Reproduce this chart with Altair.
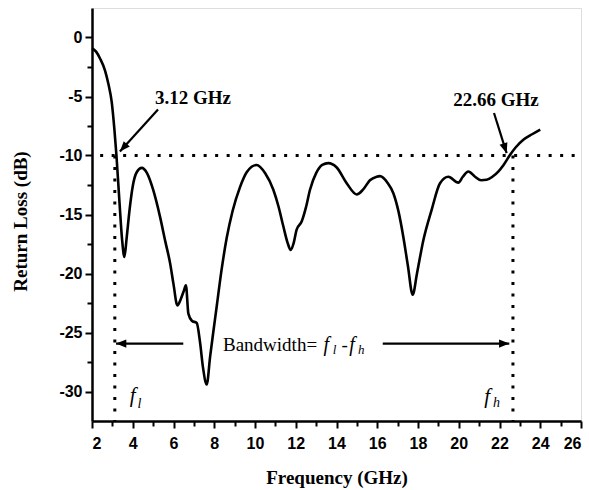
import altair as alt
import pandas as pd

# Return loss curve (GHz, dB)
freq = [2.00, 2.2, 2.4, 2.64, 2.8, 2.97, 3.1, 3.2, 3.35, 3.48, 3.59, 3.7, 3.85, 4.0, 4.2,
        4.44, 4.7, 5.0, 5.34, 5.6, 5.83, 6.0, 6.19, 6.35, 6.5, 6.61, 6.73, 6.9, 7.14, 7.3,
        7.45, 7.63, 7.8, 7.95, 8.12, 8.35, 8.61, 8.9, 9.26, 9.6, 10.08, 10.5, 10.9, 11.15,
        11.39, 11.6, 11.75, 11.9, 12.04, 12.29, 12.5, 12.7, 13.0, 13.3, 13.6, 14.0, 14.5,
        14.99, 15.3, 15.64, 15.97, 16.13, 16.5, 16.79, 17.05, 17.28, 17.5, 17.74, 17.95,
        18.26, 18.67, 19.08, 19.49, 19.98, 20.2, 20.47, 20.8, 21.1, 21.37, 21.65, 21.94,
        22.2, 22.52, 22.8, 23.17, 23.6, 24.0]
rl = [-0.9, -1.2, -1.8, -2.8, -3.9, -5.5, -7.8, -10.0, -14.0, -17.2, -18.6, -17.0, -14.5,
      -12.6, -11.4, -11.05, -11.5, -12.9, -15.2, -17.3, -19.1, -20.9, -22.7, -22.2, -21.5,
      -21.0, -23.4, -24.0, -24.2, -25.8, -28.0, -29.4, -27.0, -25.0, -22.8, -19.8, -17.0,
      -14.7, -12.7, -11.4, -10.8, -11.5, -12.9, -14.3, -16.0, -17.4, -18.0, -17.4, -16.3,
      -15.6, -14.4, -12.9, -11.5, -10.8, -10.65, -11.0, -12.35, -13.3, -12.9, -12.1, -11.8,
      -11.75, -12.3, -13.2, -14.8, -16.9, -19.3, -21.8, -20.0, -17.2, -14.6, -12.35, -11.8,
      -12.3, -11.8, -11.36, -11.8, -12.1, -12.06, -11.8, -11.36, -10.8, -9.94, -9.3, -8.67,
      -8.2, -7.8]

f_low = 3.12
f_high = 22.66
threshold = -10
x_ticks = list(range(2, 27))
y_ticks = [-30, -27.5, -25, -22.5, -20, -17.5, -15, -12.5, -10, -7.5, -5, -2.5, 0]

# dotted guide lines
guide_f = [2.4, f_low, f_high]
guide_f2 = [25.7, f_low, f_high]
guide_db = [threshold, threshold, threshold]
guide_db2 = [threshold, -32.5, -32.5]

# arrows: start -> tip
arrow_f = [5.24, 21.73, 6.48, 16.27]
arrow_db = [-6.1, -6.4, -25.94, -25.94]
arrow_f2 = [3.37, 22.35, 3.18, 22.48]
arrow_db2 = [-9.66, -9.8, -25.94, -25.94]
arrow_angle = [222, 162, 270, 90]

# bold labels
lbl_text = ["3.12 GHz", "22.66 GHz"]
lbl_f = [6.96, 21.83]
lbl_db = [-5.1, -5.27]

XSC = alt.Scale(domain=[2, 26], nice=False, zero=False)
YSC = alt.Scale(domain=[-32.5, 2.5], nice=False, zero=False)

xaxis = alt.Axis(
    values=x_ticks, title="Frequency (GHz)",
    labelExpr="datum.value % 2 === 0 ? datum.label : ''",
    labelOverlap=False, labelFont="Liberation Sans", labelFontWeight="bold",
    labelFontSize=16, labelColor="black", labelPadding=7,
    tickSize={"condition": {"test": "datum.value % 2 === 0", "value": 7}, "value": 5},
    tickColor="black", tickWidth=2, domainColor="black", domainWidth=2.5,
    grid=False, titleFont="Liberation Serif", titleFontWeight="bold",
    titleFontSize=19, titleColor="black", titleY=56, titleBaseline="middle",
)
yaxis = alt.Axis(
    values=y_ticks, title="Return Loss (dB)",
    labelExpr="datum.value % 5 === 0 ? '' + datum.value : ''",
    labelOverlap=False, labelFont="Liberation Sans", labelFontWeight="bold",
    labelFontSize=16, labelColor="black", labelPadding=3,
    tickSize={"condition": {"test": "datum.value % 5 === 0", "value": 7}, "value": 5},
    tickColor="black", tickWidth=2, domainColor="black", domainWidth=2.5,
    grid=False, titleFont="Liberation Serif", titleFontWeight="bold",
    titleFontSize=19, titleColor="black", titleX=-72, titleY=213,
    titleBaseline="middle",
)

def X(field="f"):
    return alt.X(f"{field}:Q", scale=XSC, axis=xaxis, title="Frequency (GHz)")

def Y(field="db"):
    return alt.Y(f"{field}:Q", scale=YSC, axis=yaxis, title="Return Loss (dB)")

curve = pd.DataFrame({"f": freq, "db": rl})
line = alt.Chart(curve).mark_line(color="black", strokeWidth=2.6, interpolate="monotone").encode(
    x=X(), y=Y())

guides = pd.DataFrame({"f": guide_f, "f2": guide_f2, "db": guide_db, "db2": guide_db2})
guide = alt.Chart(guides).mark_rule(color="black", strokeWidth=3, strokeDash=[3, 8.5]).encode(
    x=X(), x2="f2:Q", y=Y(), y2="db2:Q")

arrows = pd.DataFrame({"f": arrow_f, "db": arrow_db, "f2": arrow_f2, "db2": arrow_db2,
                       "ang": arrow_angle})
shaft = alt.Chart(arrows).mark_rule(color="black", strokeWidth=2.2).encode(
    x=X(), x2="f2:Q", y=Y(), y2="db2:Q")
heads = alt.Chart(arrows).mark_point(
    shape="M0,0 L-0.4,1 L0.4,1 Z", filled=True, color="black", size=420, opacity=1
).encode(x=X("f2"), y=Y("db2"), angle=alt.Angle("ang:Q", scale=None))

lbls = pd.DataFrame({"t": lbl_text, "f": lbl_f, "db": lbl_db})
labels = alt.Chart(lbls).mark_text(
    font="Liberation Serif", fontWeight="bold", fontSize=19, color="black",
    align="center", baseline="middle"
).encode(x=X(), y=Y(), text="t:N")

# bandwidth formula pieces
bw_text = ["Bandwidth=", "f", "l", "-", "f", "h"]
bw_f = [8.43, 13.36, 13.82, 14.25, 14.63, 15.05]
bw_db = [-26.08, -26.08, -26.5, -26.08, -26.08, -26.5]
bw_size = [19, 20, 13, 19, 20, 13]
bw_style = ["normal", "italic", "italic", "normal", "italic", "italic"]
bw = pd.DataFrame({"t": bw_text, "f": bw_f, "db": bw_db, "s": bw_size, "st": bw_style})
bw_layers = []
for i in range(len(bw)):
    bw_layers.append(alt.Chart(bw.iloc[[i]]).mark_text(
        font="Liberation Serif", fontSize=int(bw_size[i]), fontStyle=bw_style[i],
        color="black", align="left", baseline="middle"
    ).encode(x=X(), y=Y(), text="t:N"))

# f_l and f_h markers
fl_text = ["f", "l", "f", "h"]
fl_f = [4.0, 4.33, 21.39, 21.85]
fl_db = [-30.4, -31.1, -30.5, -31.0]
fl_size = [21, 14, 21, 14]
for i in range(len(fl_text)):
    d = pd.DataFrame({"t": [fl_text[i]], "f": [fl_f[i]], "db": [fl_db[i]]})
    bw_layers.append(alt.Chart(d).mark_text(
        font="Liberation Serif", fontSize=fl_size[i], fontStyle="italic",
        color="black", align="center", baseline="middle"
    ).encode(x=X(), y=Y(), text="t:N"))

chart = alt.layer(guide, line, shaft, heads, labels, *bw_layers).properties(
    width=489, height=413,
    autosize=alt.AutoSizeParams(type="none"),
    padding={"left": 92, "top": 8, "right": 8, "bottom": 69},
).configure_view(stroke=None).configure(background="white")

chart.save("out.html", embed_options={"renderer": "svg", "actions": False})
